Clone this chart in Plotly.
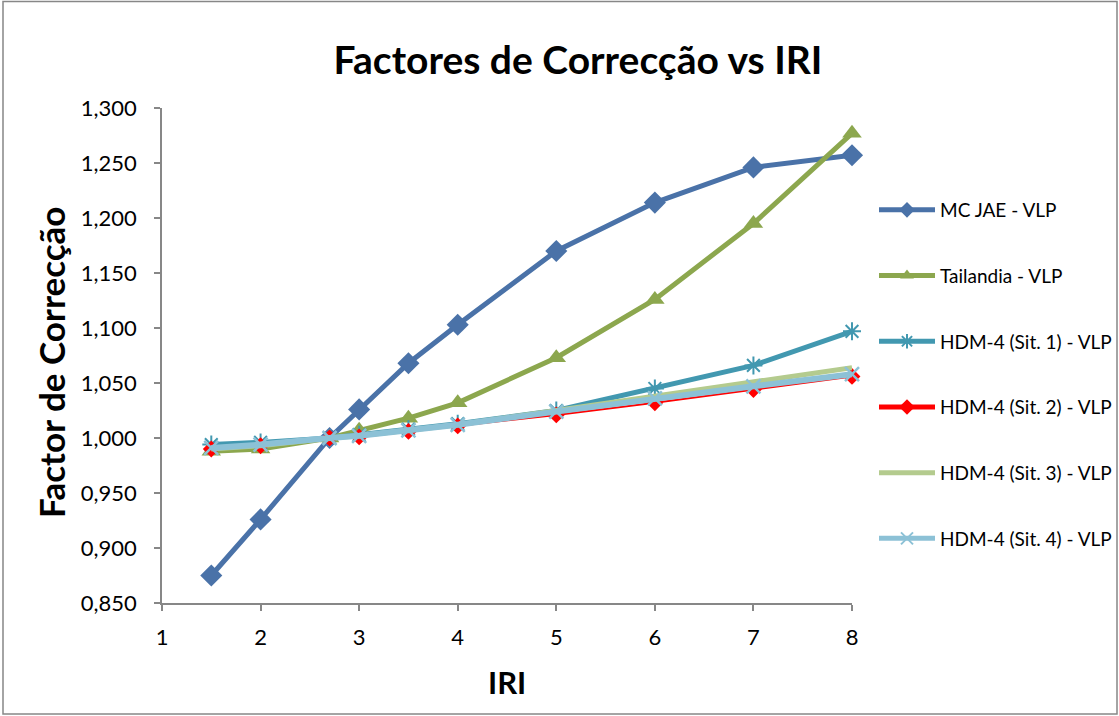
import plotly.graph_objects as go

# IRI values (x) and correction factors per model
iri = [1.5, 2, 2.7, 3, 3.5, 4, 5, 6, 7, 8]

mc_jae = [0.875, 0.926, 1.000, 1.026, 1.068, 1.103, 1.170, 1.214, 1.246, 1.257]
tailandia = [0.988, 0.990, 1.000, 1.007, 1.018, 1.032, 1.073, 1.126, 1.195, 1.277]
hdm_sit1 = [0.994, 0.996, 1.000, 1.003, 1.008, 1.013, 1.025, 1.045, 1.066, 1.097]
hdm_sit2 = [0.990, 0.993, 1.000, 1.001, 1.006, 1.011, 1.021, 1.032, 1.044, 1.056]
hdm_sit3 = [0.990, 0.993, 1.000, 1.002, 1.007, 1.012, 1.025, 1.038, 1.051, 1.064]
hdm_sit4 = [0.991, 0.994, 1.000, 1.002, 1.007, 1.012, 1.024, 1.036, 1.047, 1.058]

names = [
    "MC JAE - VLP",
    "Tailandia - VLP",
    "HDM-4 (Sit. 1) - VLP",
    "HDM-4 (Sit. 2) - VLP",
    "HDM-4 (Sit. 3) - VLP",
    "HDM-4 (Sit. 4) - VLP",
]

FONT = "Lato"

W, H = 1119, 716
L, R, T, B = 162, 852, 108, 603  # plot area in pixels


def px(x):
    return (x - L) / (R - L)


def py(y):
    return (B - y) / (B - T)


fig = go.Figure()

styles = [
    (mc_jae, dict(color="#4A72A8", width=5), dict(symbol="diamond", size=17, color="#4A72A8")),
    (tailandia, dict(color="#8CA74E", width=5), dict(symbol="triangle-up", size=17, color="#8CA74E")),
    (hdm_sit1, dict(color="#4298B0", width=5),
     dict(symbol="asterisk-open", size=15, color="#4298B0", line=dict(color="#4298B0", width=2))),
    (hdm_sit2, dict(color="#FF0000", width=2), dict(symbol="diamond", size=13, color="#FF0000")),
    (hdm_sit3, dict(color="#B4CB8E", width=5), None),
    (hdm_sit4, dict(color="#8CC1D6", width=6),
     dict(symbol="x-thin-open", size=14, color="#8CC1D6", line=dict(color="#8CC1D6", width=2.5))),
]

for i, (vals, line, marker) in enumerate(styles):
    fig.add_trace(go.Scatter(
        x=iri, y=vals, name=names[i],
        mode="lines+markers" if marker else "lines",
        line=line,
        marker=marker if marker else None,
        legendgroup=str(i),
        cliponaxis=False,
    ))

axis_common = dict(
    showgrid=False, zeroline=False, showline=True,
    linecolor="#878787", linewidth=1.5,
    ticks="outside", ticklen=6, tickcolor="#878787", tickwidth=1.5,
    tickfont=dict(family=FONT, size=22, color="#000000"),
    automargin=False,
)

fig.update_layout(
    width=W, height=H,
    margin=dict(l=L, r=W - R, t=T, b=H - B, autoexpand=False),
    paper_bgcolor="white", plot_bgcolor="white",
    separators=",.",
    showlegend=True,
    title=dict(
        text="<b>Factores de Correcção vs IRI</b>",
        font=dict(family=FONT, size=39, color="#000000"),
        x=578 / W, xanchor="center", y=1 - 60 / H, yanchor="middle",
    ),
    xaxis=dict(range=[1, 8], dtick=1, tick0=1, ticklabelstandoff=8, **axis_common),
    yaxis=dict(range=[0.85, 1.30], dtick=0.05, tick0=0.85, tickformat=".3f",
               ticklabelstandoff=13, **axis_common),
    legend=dict(
        x=px(874), y=py(191), xanchor="left", yanchor="top",
        font=dict(family=FONT, size=19, color="#000000"),
        tracegroupgap=38, itemwidth=56, itemsizing="constant",
        bgcolor="rgba(0,0,0,0)",
    ),
    annotations=[
        dict(text="<b>Factor de Correcção</b>", x=px(51), y=py(363), xref="paper", yref="paper",
             xanchor="center", yanchor="middle",
             textangle=-90, showarrow=False, font=dict(family=FONT, size=35, color="#000000")),
        dict(text="<b>IRI</b>", x=px(507), y=py(682), xref="paper", yref="paper",
             xanchor="center", yanchor="middle",
             showarrow=False, font=dict(family=FONT, size=31, color="#000000")),
    ],
    shapes=[
        dict(type="rect", xref="paper", yref="paper",
             x0=px(3), x1=px(1117), y0=py(714), y1=py(1.5),
             line=dict(color="#878787", width=1.5), fillcolor="rgba(0,0,0,0)", layer="below"),
    ],
)

fig.write_html("out.html")
